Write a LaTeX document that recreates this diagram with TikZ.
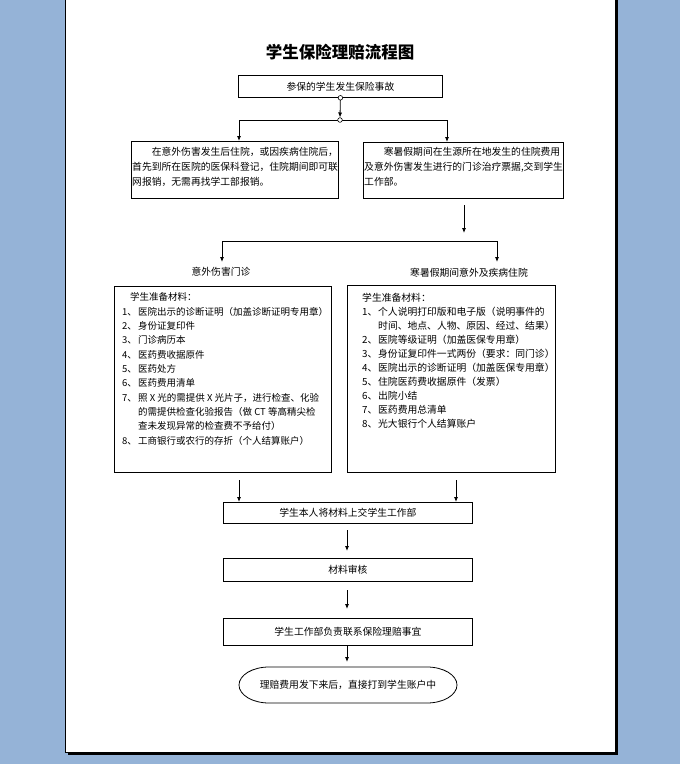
\documentclass[tikz,border=0pt]{standalone}
\usepackage{fontspec}
\setmainfont{Noto Sans CJK SC}
\usetikzlibrary{arrows.meta,calc}
\definecolor{pagebg}{RGB}{149,179,215}
\begin{document}
\begin{tikzpicture}[x=1pt,y=-1pt,
  box/.style={draw=black,line width=0.8pt,inner sep=0pt,anchor=north west,font=\fontsize{9.8}{12}\selectfont},
  arr/.style={draw=black,line width=0.8pt,-{Latex[length=5pt,width=4pt]}},
  ln/.style={draw=black,line width=0.8pt},
  txt/.style={inner sep=0pt,anchor=north west,align=left}]
\useasboundingbox (0,0) rectangle (680,764);
\fill[pagebg] (0,0) rectangle (680,764);
\fill[black] (68,-5) rectangle (618,755);
\filldraw[fill=white,draw=black,line width=0.8pt] (65,-5) rectangle (615,752);

\node[font=\fontsize{16.5}{18}\selectfont\bfseries,inner sep=0pt] (title) at (340,52) {学生保险理赔流程图};

\node[box,minimum width=204pt,minimum height=22pt] (b0) at (238,75) {参保的学生发生保险事故};

\node[box,minimum width=207pt,minimum height=57pt] (b1) at (131,141) {};
\node[txt,font=\fontsize{9.8}{15}\selectfont] (t1) at (132,147) {\hspace{2em}在意外伤害发生后住院，或因疾病住院后，\\首先到所在医院的医保科登记，住院期间即可联\\网报销，无需再找学工部报销。};

\node[box,minimum width=200pt,minimum height=56pt] (b2) at (363,142) {};
\node[txt,font=\fontsize{9.8}{15}\selectfont] (t2) at (364,147) {\hspace{2em}寒暑假期间在生源所在地发生的住院费用\\及意外伤害发生进行的门诊治疗票据,交到学生\\工作部。};

\node[inner sep=0pt,font=\fontsize{9.8}{12}\selectfont] (lbl1) at (221,272) {意外伤害门诊};
\node[inner sep=0pt,font=\fontsize{9.8}{12}\selectfont] (lbl2) at (469,273) {寒暑假期间意外及疾病住院};

\node[box,minimum width=217pt,minimum height=186pt] (m1) at (114,286) {};
\node[txt,font=\fontsize{9.5}{14.33}\selectfont] (l1) at (122,292.5) {%
\hspace{8pt}学生准备材料：\\
\makebox[16pt][l]{1、}医院出示的诊断证明（加盖诊断证明专用章）\\
\makebox[16pt][l]{2、}身份证复印件\\
\makebox[16pt][l]{3、}门诊病历本\\
\makebox[16pt][l]{4、}医药费收据原件\\
\makebox[16pt][l]{5、}医药处方\\
\makebox[16pt][l]{6、}医药费用清单\\
\makebox[16pt][l]{7、}照 X 光的需提供 X 光片子，进行检查、化验\\
\hspace{16pt}的需提供检查化验报告（做 CT 等高精尖检\\
\hspace{16pt}查未发现异常的检查费不予给付）\\
\makebox[16pt][l]{8、}工商银行或农行的存折（个人结算账户）};

\node[box,minimum width=208pt,minimum height=187pt] (m2) at (347,285) {};
\node[txt,font=\fontsize{9.8}{14.1}\selectfont] (l2) at (362,292.5) {%
学生准备材料：\\
\makebox[16pt][l]{1、}个人说明打印版和电子版（说明事件的\\
\hspace{16pt}时间、地点、人物、原因、经过、结果）\\
\makebox[16pt][l]{2、}医院等级证明（加盖医保专用章）\\
\makebox[16pt][l]{3、}身份证复印件一式两份（要求：同门诊）\\
\makebox[16pt][l]{4、}医院出示的诊断证明（加盖医保专用章）\\
\makebox[16pt][l]{5、}住院医药费收据原件（发票）\\
\makebox[16pt][l]{6、}出院小结\\
\makebox[16pt][l]{7、}医药费用总清单\\
\makebox[16pt][l]{8、}光大银行个人结算账户};

\node[box,minimum width=249pt,minimum height=21pt] (s1) at (223,502) {学生本人将材料上交学生工作部};
\node[box,minimum width=249pt,minimum height=23pt] (s2) at (223,558) {材料审核};
\node[box,minimum width=249pt,minimum height=27pt] (s3) at (223,618) {学生工作部负责联系保险理赔事宜};
\node[minimum width=218pt,minimum height=36pt,inner sep=0pt,font=\fontsize{9.8}{12}\selectfont] (end) at (348,685) {理赔费用发下来后，直接打到学生账户中};
\draw[ln] (269,667) -- (427,667) arc[start angle=90,end angle=-90,x radius=30pt,y radius=18pt]
  -- (269,703) arc[start angle=270,end angle=90,x radius=30pt,y radius=18pt] -- cycle;

% top connectors
\coordinate (j0) at (340,120);
\coordinate (jl) at (239,120);
\coordinate (jr) at (447,120);
\draw[ln] (jl) -- (jr);
\draw[arr] (b0.south) -- ([yshift=2.5pt]j0);
\draw[arr] (jl) -- (jl |- b1.north);
\draw[arr] (jr) -- (jr |- b2.north);
\filldraw[fill=white,draw=black,line width=0.6pt] (b0.south) circle[radius=2.3pt];
\filldraw[fill=white,draw=black,line width=0.6pt] (j0) circle[radius=2.3pt];

% middle connectors
\coordinate (k1) at (464,205);
\coordinate (k2) at (464,233);
\draw[arr] (k1) -- (k2);
\coordinate (jl2) at (222,241);
\coordinate (jr2) at (497,241);
\coordinate (tl2) at (222,262);
\coordinate (tr2) at (497,262);
\draw[ln] (jl2) -- (jr2);
\draw[arr] (jl2) -- (tl2);
\draw[arr] (jr2) -- (tr2);

% bottom connectors
\coordinate (p1) at (239,480);
\coordinate (p2) at (456,480);
\draw[arr] (p1) -- (p1 |- s1.north);
\draw[arr] (p2) -- (p2 |- s1.north);
\coordinate (p3) at (347,530);
\coordinate (q3) at (347,551);
\draw[arr] (p3) -- (q3);
\coordinate (p4) at (347,590);
\coordinate (q4) at (347,609);
\draw[arr] (p4) -- (q4);
\coordinate (p5) at (347,646);
\coordinate (q5) at (347,662);
\draw[arr] (p5) -- (q5);
\end{tikzpicture}
\end{document}
